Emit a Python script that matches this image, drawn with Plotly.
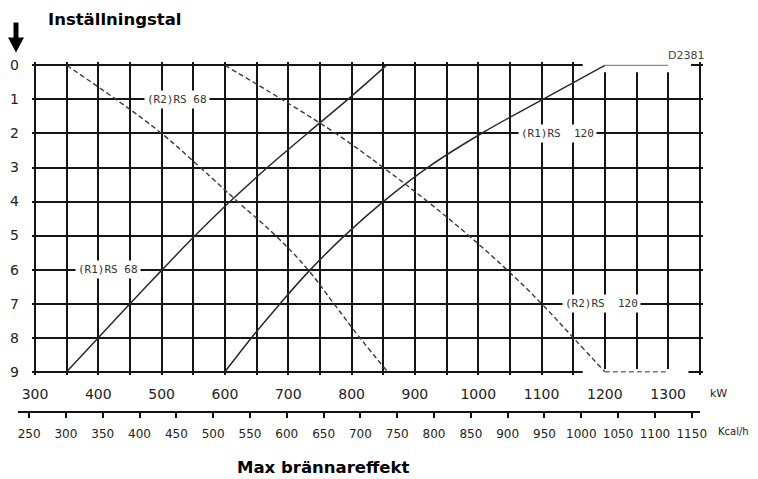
import plotly.graph_objects as go

# ---------------- data ----------------
SETTINGS = [0, 1, 2, 3, 4, 5, 6, 7, 8, 9]
RS68_R1_KW = [855, 794, 730, 667, 608, 553, 501, 450, 400, 350]
RS68_R2_KW = [350, 428, 500, 561, 620, 680, 731, 772, 813, 857]
RS120_R1_KW = [1200, 1102, 1005, 920, 850, 789, 735, 687, 642, 600]
RS120_R2_KW = [600, 690, 775, 850, 920, 985, 1045, 1100, 1150, 1200]
RS120_R1_EXT_KW = [1200, 1300]
RS120_R1_EXT_SET = [0, 0]
RS120_R2_EXT_KW = [1200, 1300]
RS120_R2_EXT_SET = [9, 9]

KW_TICKS = [300, 400, 500, 600, 700, 800, 900, 1000, 1100, 1200, 1300]
KW_GRID = list(range(300, 1351, 50))
KCAL_TICKS = list(range(250, 1151, 50))
SETTING_TICKS = list(range(0, 10))
KW_TO_KCAL = 0.86

CURVE_LABELS = ["(R2)RS 68", "(R1)RS 68", "(R1)RS  120", "(R2)RS  120"]
LABEL_KW = [525, 415, 1126, 1195]
LABEL_SET = [1, 6, 2, 7]

# ---------------- layout geometry (window pixels) ----------------
OFF = 8  # the page body has an 8 px margin
WIN_W, WIN_H = 758, 479
FW, FH = WIN_W, WIN_H
FRAME_L, FRAME_R, FRAME_T, FRAME_B = 35.0, 700.0, 65.0, 371.7
KW0, KW1 = 300, 1350
PX_PER_KW = (FRAME_R - FRAME_L) / (KW1 - KW0)
ROW_PX = (FRAME_B - FRAME_T) / 9.0
PAD_KW, PAD_ROW = 5, 0.1
PLOT_L = FRAME_L - PAD_KW * PX_PER_KW
PLOT_R = FRAME_R + PAD_KW * PX_PER_KW
PLOT_T = FRAME_T - PAD_ROW * ROW_PX
PLOT_B = FRAME_B + PAD_ROW * ROW_PX
KCAL_LINE_Y = 411.0
KCAL_L, KCAL_R = 18.0, 700.0

ML = KCAL_L - OFF
MT = PLOT_T - OFF
MR = FW - (PLOT_R - OFF)
MB = FH - (KCAL_LINE_Y - OFF)
PW, PH = FW - ML - MR, FH - MT - MB


def px(x):
    return (x - OFF - ML) / PW


def py(y):
    return (FH - MB - (y - OFF)) / PH


def kw_at(xpx):
    return KW0 + (xpx - FRAME_L) / PX_PER_KW


GRID = "#151515"
GW = 1.8
SMOOTH = 1.2

fig = go.Figure()

solid = dict(color="#2a2a2a", width=1.5)
dashed = dict(color="#3a3a3a", width=1.4, dash="5px,3px")

fig.add_trace(go.Scatter(x=RS68_R1_KW, y=SETTINGS, mode="lines",
                         line=dict(**solid, shape="spline", smoothing=SMOOTH)))
fig.add_trace(go.Scatter(x=RS68_R2_KW, y=SETTINGS, mode="lines",
                         line=dict(**dashed, shape="spline", smoothing=SMOOTH)))
fig.add_trace(go.Scatter(x=RS120_R1_KW, y=SETTINGS, mode="lines",
                         line=dict(**solid, shape="spline", smoothing=SMOOTH)))
fig.add_trace(go.Scatter(x=RS120_R2_KW, y=SETTINGS, mode="lines",
                         line=dict(**dashed, shape="spline", smoothing=SMOOTH)))
fig.add_trace(go.Scatter(x=RS120_R1_EXT_KW, y=RS120_R1_EXT_SET, mode="lines",
                         line=dict(color="#8a8a8a", width=1.3)))
fig.add_trace(go.Scatter(x=RS120_R2_EXT_KW, y=RS120_R2_EXT_SET, mode="lines",
                         line=dict(color="#7a7a7a", width=1.4, dash="5px,3px")))
# empty trace on a thin strip subplot so the secondary (Kcal/h) axis is created
fig.add_trace(go.Scatter(x=[], y=[], xaxis="x2", yaxis="y2", mode="lines",
                         hoverinfo="skip"))

shapes = [
    dict(type="rect", xref="x", yref="y", x0=1165, x1=1336, y0=-0.15, y1=0.2,
         fillcolor="white", line=dict(width=0), layer="between"),
    dict(type="rect", xref="x", yref="y", x0=1165, x1=1332, y0=8.92, y1=9.15,
         fillcolor="white", line=dict(width=0), layer="between"),
    dict(type="path", xref="paper", yref="paper",
         path="M{a},{b} L{c},{b} L{c},{d} L{e},{d} L{f},{g} L{h},{d} L{a},{d} Z".format(
             a=px(13.5), b=py(22), c=px(18.5), d=py(37), e=px(24), f=px(16), g=py(52),
             h=px(8)),
         fillcolor="black", line=dict(width=0)),
]

ann = []
for t, k, s in zip(CURVE_LABELS, LABEL_KW, LABEL_SET):
    ann.append(dict(x=k, y=s, xref="x", yref="y", text=t.replace(" ", "&nbsp;"),
                    showarrow=False,
                    font=dict(family="DejaVu Sans Mono", size=11, color="#333"),
                    bgcolor="white", borderpad=2))

ann += [
    dict(x=px(46), y=py(19), xref="paper", yref="paper", xanchor="left", yanchor="middle",
         text="<b>Inställningstal</b>", showarrow=False,
         font=dict(family="DejaVu Sans", size=16.5, color="black")),
    dict(x=px(324), y=py(468), xref="paper", yref="paper", xanchor="center", yanchor="middle",
         text="<b>Max brännareffekt</b>", showarrow=False,
         font=dict(family="DejaVu Sans", size=16.5, color="black")),
    dict(x=px(686), y=py(55), xref="paper", yref="paper", xanchor="center", yanchor="middle",
         text="D2381", showarrow=False,
         font=dict(family="DejaVu Sans", size=11, color="#444")),
    dict(x=px(719), y=py(393), xref="paper", yref="paper", xanchor="center", yanchor="middle",
         text="kW", showarrow=False,
         font=dict(family="DejaVu Sans", size=11, color="#222")),
    dict(x=px(716), y=py(432), xref="paper", yref="paper", xanchor="left", yanchor="middle",
         text="Kcal/h", showarrow=False,
         font=dict(family="DejaVu Sans", size=10, color="#222")),
]

kcal_lo = kw_at(KCAL_L) * KW_TO_KCAL
kcal_hi = kw_at(KCAL_R) * KW_TO_KCAL

fig.update_layout(
    width=FW, height=FH,
    margin=dict(l=ML, r=MR, t=MT, b=MB, pad=0, autoexpand=False),
    paper_bgcolor="white", plot_bgcolor="rgba(0,0,0,0)",
    showlegend=False,
    font=dict(family="DejaVu Sans", color="#222"),
    xaxis=dict(
        domain=[px(PLOT_L), 1.0],
        range=[KW0 - PAD_KW, KW1 + PAD_KW],
        tickmode="array", tickvals=KW_GRID,
        ticktext=[str(v) if v in KW_TICKS else "" for v in KW_GRID],
        showgrid=True, gridcolor=GRID, gridwidth=GW,
        zeroline=False, showline=False, ticks="",
        tickfont=dict(size=14, color="#222"),
        ticklabelstandoff=9,
        automargin=False,
    ),
    yaxis=dict(
        domain=[py(PLOT_B), 1.0],
        range=[9 + PAD_ROW, -PAD_ROW],
        tickmode="array", tickvals=SETTING_TICKS,
        showgrid=True, gridcolor=GRID, gridwidth=GW,
        zeroline=False, showline=False, ticks="",
        tickfont=dict(size=14, color="#222"),
        ticklabelstandoff=12,
        automargin=False,
    ),
    xaxis2=dict(
        domain=[0.0, px(KCAL_R)],
        range=[kcal_lo, kcal_hi],
        anchor="y2", side="bottom",
        tickmode="array", tickvals=KCAL_TICKS,
        showgrid=False, zeroline=False,
        showline=True, linecolor="#111", linewidth=1.5,
        ticks="outside", ticklen=5, tickwidth=1.5, tickcolor="#111",
        tickfont=dict(size=12, color="#222"),
        ticklabelstandoff=6,
        automargin=False,
    ),
    yaxis2=dict(
        domain=[0.0, 0.002], visible=False, showgrid=False, zeroline=False,
        automargin=False,
    ),
    shapes=shapes,
    annotations=ann,
)

fig.write_html("out.html")
